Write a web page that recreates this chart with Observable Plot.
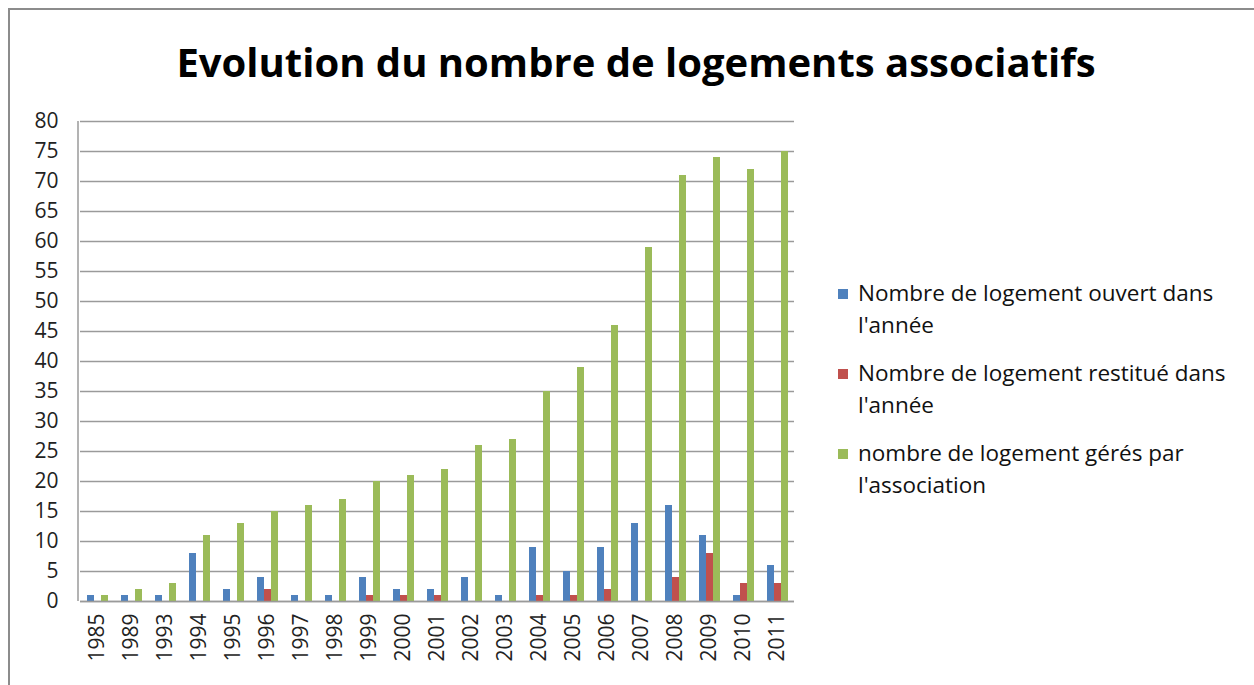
<!DOCTYPE html>
<html>
<head>
<meta charset="utf-8">
<script src="https://cdn.jsdelivr.net/npm/d3@7"></script>
<script src="https://cdn.jsdelivr.net/npm/@observablehq/plot@0.6"></script>
<style>
  html, body { margin: 0; padding: 0; background: #fff; }
  #page { position: relative; width: 1254px; height: 685px; overflow: hidden; font-family: "Open Sans", sans-serif; }
  #border { position: absolute; left: 8px; top: 8px; width: 1300px; height: 800px; border-left: 2px solid #8c8c8c; border-top: 2px solid #8c8c8c; }
  #title { position: absolute; left: 0; width: 1272px; top: 34px; text-align: center; font-weight: bold; font-size: 40px; color: #000; line-height: 56px; }
  #chart { position: absolute; left: 0; top: 100px; }
  #legend { position: absolute; left: 838px; top: 277px; font-size: 22.5px; color: #111; }
  .item { position: relative; padding-left: 20px; line-height: 32px; margin-bottom: 16px; white-space: nowrap; }
  .sw { position: absolute; left: 0; top: 12px; width: 10px; height: 10px; }
</style>
</head>
<body>
<div id="page">
  <div id="border"></div>
  <div id="title">Evolution du nombre de logements associatifs</div>
  <div id="chart"></div>
  <div id="legend"></div>
</div>
<script>
const years = ["1985","1989","1993","1994","1995","1996","1997","1998","1999","2000","2001","2002","2003","2004","2005","2006","2007","2008","2009","2010","2011"];
const ouvert   = [1, 1, 1, 8, 2, 4, 1, 1, 4, 2, 2, 4, 1, 9, 5, 9, 13, 16, 11, 1, 6];
const restitue = [0, 0, 0, 0, 0, 2, 0, 0, 1, 1, 1, 0, 0, 1, 1, 2, 0, 4, 8, 3, 3];
const geres    = [1, 2, 3, 11, 13, 15, 16, 17, 20, 21, 22, 26, 27, 35, 39, 46, 59, 71, 74, 72, 75];
const seriesNames = [
  "Nombre de logement ouvert dans l'année",
  "Nombre de logement restitué dans l'année",
  "nombre de logement gérés par l'association"
];
const legendLines = [
  ["Nombre de logement ouvert dans", "l'année"],
  ["Nombre de logement restitué dans", "l'année"],
  ["nombre de logement gérés par", "l'association"]
];
const colors = ["#4F81BD", "#C0504D", "#9BBB59"];
const yTicks = d3.range(0, 81, 5);

const seriesValues = [ouvert, restitue, geres];
const data = years.flatMap((yr, i) => seriesNames.map((s, k) => ({year: yr, serie: s, value: seriesValues[k][i]})));

const marginLeft = 78;
const chart = Plot.plot({
  width: 810,
  height: 585,
  marginLeft,
  marginRight: 15,
  marginTop: 21,
  marginBottom: 84,
  style: {fontFamily: "'Open Sans', sans-serif", fontSize: "20px", color: "#222", background: "transparent"},
  fx: {domain: years, padding: 0, label: null},
  x: {domain: seriesNames, paddingInner: 0, paddingOuter: 0.75, axis: null},
  y: {domain: [0, 80], label: null},
  color: {domain: seriesNames, range: colors},
  marks: [
    Plot.gridY(yTicks, {stroke: "#9a9a9a", strokeOpacity: 1, strokeWidth: 1.5}),
    Plot.barY(data, {fx: "year", x: "serie", y: "value", fill: "serie"}),
    Plot.ruleY([0], {stroke: "#9a9a9a", strokeWidth: 1.5}),
    Plot.axisY(yTicks, {tickSize: 0, tickPadding: 22, label: null, fontSize: 21, fill: "#222"}),
    Plot.axisFx({anchor: "bottom", tickRotate: -90, tickSize: 0, tickPadding: 12, label: null, fontSize: 21, fill: "#222"})
  ]
});
document.getElementById("chart").appendChild(chart);

// left axis line using the plot's own y scale
const ys = chart.scale("y");
d3.select(chart).append("line")
  .attr("x1", marginLeft).attr("x2", marginLeft)
  .attr("y1", ys.apply(0)).attr("y2", ys.apply(80))
  .attr("stroke", "#9a9a9a").attr("stroke-width", 1.5);

const legend = d3.select("#legend");
legendLines.forEach((lines, k) => {
  const it = legend.append("div").attr("class", "item");
  it.append("div").attr("class", "sw").style("background", colors[k]);
  it.append("div").html(lines.join("<br>"));
});
</script>
</body>
</html>
